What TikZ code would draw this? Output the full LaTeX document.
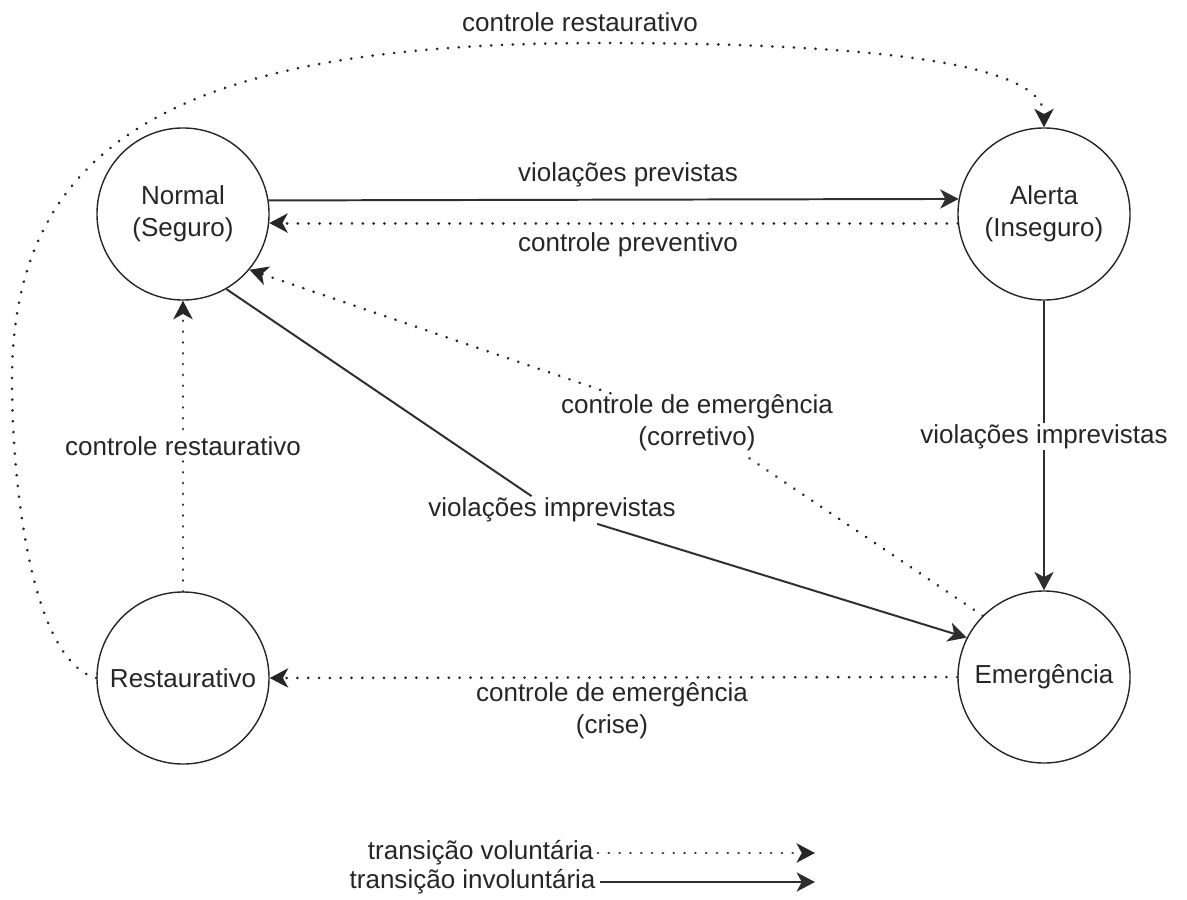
\documentclass[tikz,border=0pt]{standalone}
\usepackage{fontspec}
\setmainfont{Liberation Sans}
\usepackage{tikz}
\usetikzlibrary{arrows.meta}

\begin{document}
\begin{tikzpicture}[x=0.025cm,y=-0.025cm,
  font=\fontsize{18.5}{22.5}\selectfont,
  estado/.style={circle,draw=black!85,line width=1pt,minimum size=4.3cm,inner sep=0pt,align=center,text=black!85},
  rot/.style={text=black!85,align=center,inner sep=1pt},
  rotf/.style={rot,fill=white},
  ponta/.style={-{Stealth[length=0.46cm,width=0.48cm,inset=0.13cm]}},
  invol/.style={ponta,draw=black!82,line width=1.4pt},
  vol/.style={ponta,draw=black!85,line width=2.1pt,line cap=round,dash pattern=on 0.01pt off 0.27cm}]
\useasboundingbox (0,0) rectangle (1187,899);
\node[estado] (normal) at (183,214) {Normal\\(Seguro)};
\node[estado] (alerta) at (1044,214) {Alerta\\(Inseguro)};
\node[estado] (restaur) at (183,678) {Restaurativo};
\node[estado] (emerg) at (1044,677) {Emergência};

\draw[invol] (normal.9.4) -- (alerta.170.6);
\node[rot] (lblPrev) at (628,175) {violações previstas};
\draw[vol] (alerta.186.7) -- (normal.-6.7);
\node[rot] (lblPrevent) at (628,245) {controle preventivo};

\draw[vol] (restaur.west) .. controls (30,660) and (12,480) .. (12,380)
  .. controls (12,130) and (200,43) .. (600,43)
  .. controls (850,43) and (1044,60) .. (alerta.north);
\node[rot] (lblRestTop) at (580,22) {controle restaurativo};

\draw[vol] (restaur.north) -- (normal.south) node[rotf,pos=0.5] (lblRest) {controle restaurativo};

\node[rot] (lblImp) at (552,510) {violações imprevistas};
\draw[invol] (normal.-60) -- (lblImp) -- (emerg.153);

\node[rot] (lblCorr) at (697,423) {controle de emergência\\(corretivo)};
\draw[vol] (emerg.135) -- (lblCorr) -- (normal.-40);

\draw[invol] (alerta.south) -- (emerg.north) node[rotf,pos=0.47] (lblImp2) {violações imprevistas};

\draw[vol] (emerg.west) -- (restaur.east);
\node[rot] (lblCrise) at (612,711) {controle de emergência\\(crise)};

\node[rot,anchor=east,inner sep=3pt] (legVol) at (598,853) {transição voluntária};
\node[rot,anchor=east,inner sep=3pt] (legInv) at (600,882) {transição involuntária};
\coordinate (legVolFim) at (815,853);
\coordinate (legInvFim) at (815,882);
\draw[vol] (legVol) -- (legVolFim);
\draw[invol] (legInv) -- (legInvFim);
\end{tikzpicture}
\end{document}
